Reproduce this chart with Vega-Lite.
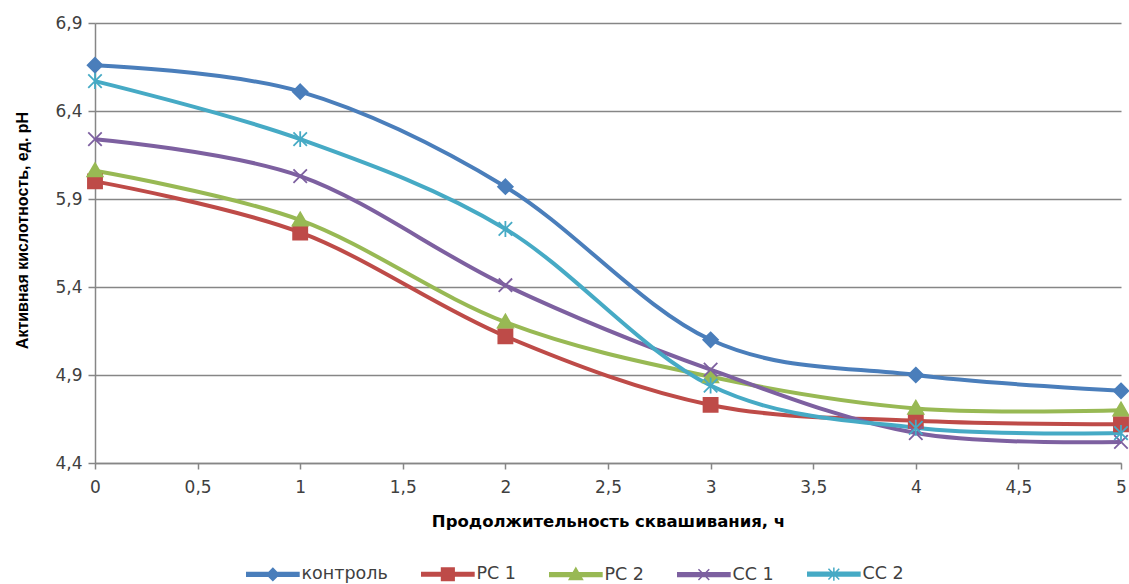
{
  "$schema": "https://vega.github.io/schema/vega-lite/v6.json",
  "width": 1026,
  "height": 440,
  "autosize": "none",
  "padding": {"left": 95, "top": 23, "right": 8, "bottom": 121},
  "background": "white",
  "config": {
    "view": {"stroke": null},
    "font": "DejaVu Sans"
  },
  "data": {
    "values": [
      {"t": 0, "pH": 6.66, "s": "контроль"},
      {"t": 1, "pH": 6.51, "s": "контроль"},
      {"t": 2, "pH": 5.97, "s": "контроль"},
      {"t": 3, "pH": 5.10, "s": "контроль"},
      {"t": 4, "pH": 4.90, "s": "контроль"},
      {"t": 5, "pH": 4.81, "s": "контроль"},
      {"t": 0, "pH": 6.00, "s": "PC 1"},
      {"t": 1, "pH": 5.71, "s": "PC 1"},
      {"t": 2, "pH": 5.12, "s": "PC 1"},
      {"t": 3, "pH": 4.73, "s": "PC 1"},
      {"t": 4, "pH": 4.64, "s": "PC 1"},
      {"t": 5, "pH": 4.62, "s": "PC 1"},
      {"t": 0, "pH": 6.06, "s": "PC 2"},
      {"t": 1, "pH": 5.78, "s": "PC 2"},
      {"t": 2, "pH": 5.20, "s": "PC 2"},
      {"t": 3, "pH": 4.89, "s": "PC 2"},
      {"t": 4, "pH": 4.71, "s": "PC 2"},
      {"t": 5, "pH": 4.70, "s": "PC 2"},
      {"t": 0, "pH": 6.24, "s": "CC 1"},
      {"t": 1, "pH": 6.03, "s": "CC 1"},
      {"t": 2, "pH": 5.41, "s": "CC 1"},
      {"t": 3, "pH": 4.93, "s": "CC 1"},
      {"t": 4, "pH": 4.57, "s": "CC 1"},
      {"t": 5, "pH": 4.52, "s": "CC 1"},
      {"t": 0, "pH": 6.57, "s": "CC 2"},
      {"t": 1, "pH": 6.24, "s": "CC 2"},
      {"t": 2, "pH": 5.73, "s": "CC 2"},
      {"t": 3, "pH": 4.84, "s": "CC 2"},
      {"t": 4, "pH": 4.60, "s": "CC 2"},
      {"t": 5, "pH": 4.57, "s": "CC 2"}
    ]
  },
  "encoding": {
    "x": {
      "field": "t", "type": "quantitative",
      "scale": {"domain": [0, 5], "nice": false, "zero": false},
      "axis": {
        "title": "Продолжительность сквашивания, ч",
        "values": [0, 0.5, 1, 1.5, 2, 2.5, 3, 3.5, 4, 4.5, 5],
        "labelExpr": "replace(toString(datum.value), '.', ',')",
        "grid": false,
        "domainColor": "#868686", "domainWidth": 1.5,
        "tickColor": "#868686", "tickWidth": 1.5, "tickSize": 6,
        "labelColor": "#404040", "labelFontSize": 17, "labelPadding": 10,
        "labelFlush": false,
        "titleFont": "DejaVu Sans", "titleFontWeight": "bold", "titleFontSize": 16.5, "titleColor": "#000000",
        "titleY": 58, "titleBaseline": "middle"
      }
    },
    "y": {
      "field": "pH", "type": "quantitative",
      "scale": {"domain": [4.4, 6.9], "nice": false, "zero": false},
      "axis": {
        "title": "Активная кислотность, ед. pH",
        "values": [4.4, 4.9, 5.4, 5.9, 6.4, 6.9],
        "labelExpr": "replace(format(datum.value, '.1f'), '.', ',')",
        "grid": true, "gridColor": "#868686", "gridWidth": 1.5,
        "domainColor": "#868686", "domainWidth": 1.5,
        "tickColor": "#868686", "tickWidth": 1.5, "tickSize": 7,
        "labelColor": "#404040", "labelFontSize": 17, "labelPadding": 6,
        "titleFont": "Liberation Sans", "titleFontWeight": "bold", "titleFontSize": 16, "titleColor": "#000000",
        "titleX": -73, "titleY": 207, "titleAngle": -90, "titleBaseline": "middle", "titleAlign": "center"
      }
    }
  },
  "resolve": {"scale": {"shape": "independent", "fill": "independent", "stroke": "independent"}},
  "layer": [
    {
      "mark": {"type": "line", "interpolate": "cardinal", "tension": 0, "strokeWidth": 4},
      "encoding": {
        "stroke": {
          "field": "s", "type": "nominal",
          "scale": {"domain": ["контроль", "PC 1", "PC 2", "CC 1", "CC 2"], "range": ["#4A7EBB", "#BE4B48", "#98B954", "#7D60A0", "#46AAC5"]},
          "legend": null
        }
      }
    },
    {
      "mark": {"type": "point", "filled": false, "size": 150, "strokeWidth": 1.8, "opacity": 1},
      "encoding": {
        "fill": {"field": "s", "type": "nominal", "scale": {"domain": ["контроль", "PC 1", "PC 2", "CC 1", "CC 2"], "range": ["#4A7EBB", "#BE4B48", "#98B954", "#7D60A0", "#46AAC5"]}, "legend": null},
        "stroke": {"field": "s", "type": "nominal", "scale": {"domain": ["контроль", "PC 1", "PC 2", "CC 1", "CC 2"], "range": ["#4A7EBB", "#BE4B48", "#98B954", "#7D60A0", "#46AAC5"]}, "legend": null},
        "shape": {
          "field": "s", "type": "nominal",
          "scale": {"domain": ["контроль", "PC 1", "PC 2", "CC 1", "CC 2"], "range": ["M0,-1.2L1.2,0L0,1.2L-1.2,0Z", "M-1.15,-1.15H1.15V1.15H-1.15Z", "M0,-1.25L1.25,0.9L-1.25,0.9Z", "M-1.1,-1.1L1.1,1.1M-1.1,1.1L1.1,-1.1", "M-1.1,-1.1L1.1,1.1M-1.1,1.1L1.1,-1.1M0,-1.3L0,1.3"]},
          "legend": null
        }
      }
    },
    {
      "mark": {"type": "point", "filled": false, "size": 144, "strokeWidth": 1.5, "opacity": 0},
      "encoding": {
        "fill": {"field": "s", "type": "nominal", "scale": {"domain": ["контроль", "PC 1", "PC 2", "CC 1", "CC 2"], "range": ["#4A7EBB", "#BE4B48", "#98B954", "#7D60A0", "#46AAC5"]},
          "legend": {"title": null, "orient": "none", "direction": "horizontal", "legendX": 149, "legendY": 542, "symbolSize": 144, "symbolStrokeWidth": 1.5, "symbolOpacity": 1, "labelFontSize": 17.5, "labelColor": "#404040", "labelOffset": 40, "columnPadding": 30}},
        "stroke": {"field": "s", "type": "nominal", "scale": {"domain": ["контроль", "PC 1", "PC 2", "CC 1", "CC 2"], "range": ["#4A7EBB", "#BE4B48", "#98B954", "#7D60A0", "#46AAC5"]},
          "legend": {"title": null, "orient": "none", "direction": "horizontal", "legendX": 149, "legendY": 542, "symbolSize": 144, "symbolStrokeWidth": 1.5, "symbolOpacity": 1, "labelFontSize": 17.5, "labelColor": "#404040", "labelOffset": 40, "columnPadding": 30}},
        "shape": {
          "field": "s", "type": "nominal",
          "scale": {"domain": ["контроль", "PC 1", "PC 2", "CC 1", "CC 2"], "range": [
            "M-1,-0.3H7.7V0.3H-1Z M3.35,-1L4.35,0L3.35,1L2.35,0Z",
            "M-1,-0.3H7.7V0.3H-1Z M2.3,-1.05H4.4V1.05H2.3Z",
            "M-1,-0.3H7.7V0.3H-1Z M3.35,-1.1L4.45,0.8L2.25,0.8Z",
            "M-1,-0.3H7.7V0.3H-1Z M2.45,-0.9L4.25,0.9M2.45,0.9L4.25,-0.9",
            "M-1,-0.3H7.7V0.3H-1Z M2.45,-0.9L4.25,0.9M2.45,0.9L4.25,-0.9M3.35,-1.1L3.35,1.1"]},
          "legend": {"title": null, "orient": "none", "direction": "horizontal", "legendX": 149, "legendY": 542, "symbolSize": 144, "symbolStrokeWidth": 1.5, "symbolOpacity": 1, "labelFontSize": 17.5, "labelColor": "#404040", "labelOffset": 40, "columnPadding": 30}
        }
      }
    }
  ]
}
